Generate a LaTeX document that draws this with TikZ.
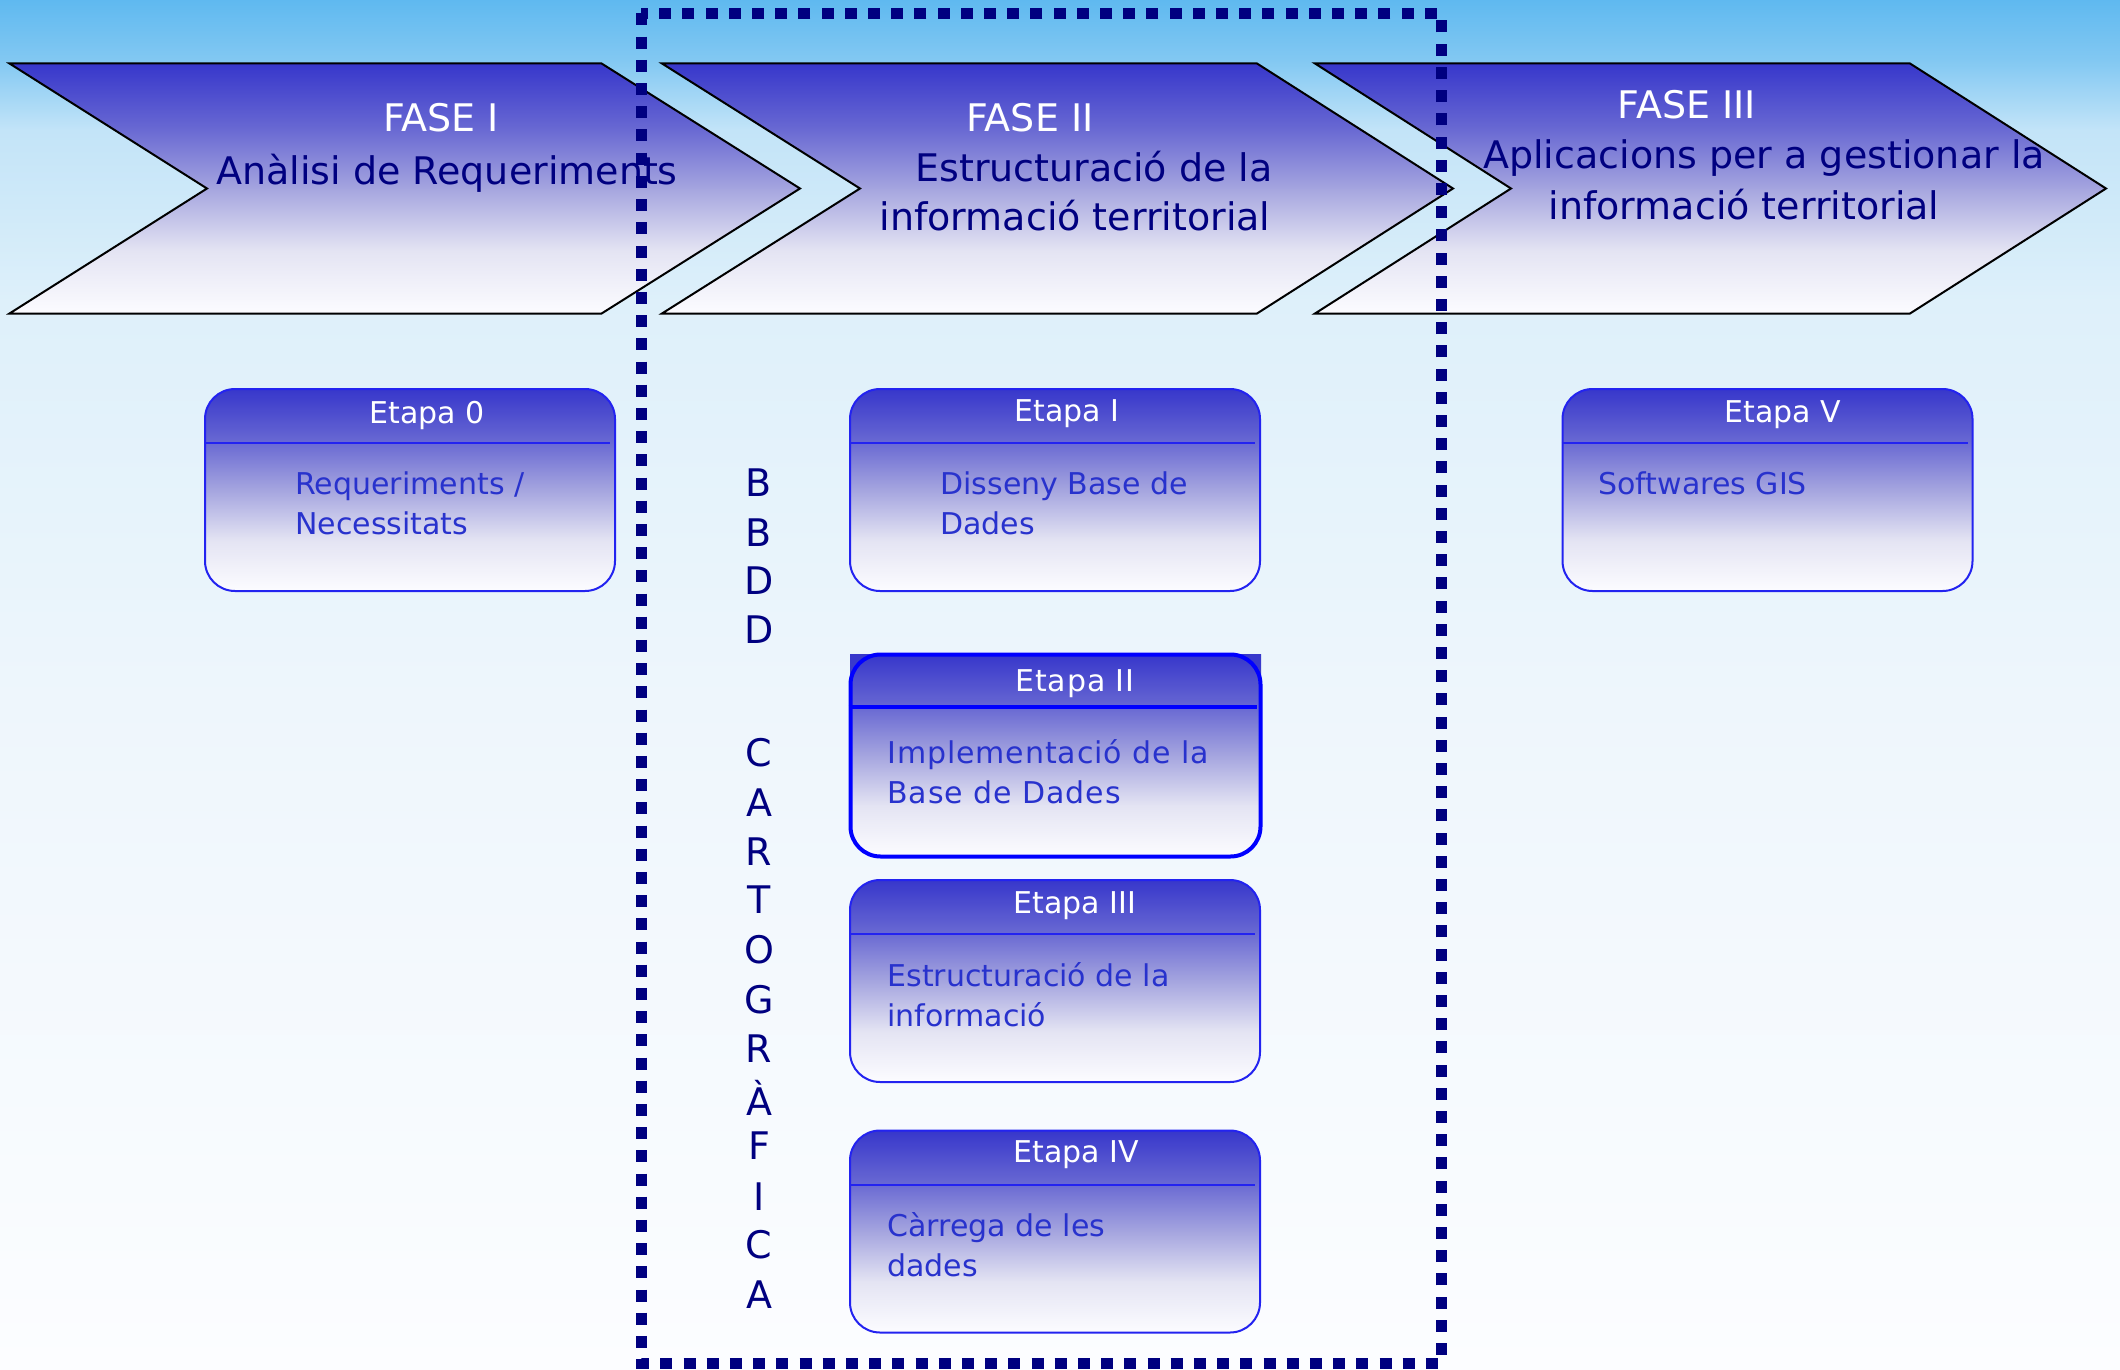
\documentclass[tikz,border=0pt]{standalone}
\usepackage{fontspec}
\setmainfont{DejaVu Sans}
\newfontfamily\spacedfont[LetterSpace=3]{DejaVu Sans}
\definecolor{navy}{RGB}{0,0,128}
\definecolor{txtblue}{RGB}{40,50,205}
\definecolor{boxtop}{RGB}{45,45,200}
\definecolor{boxborder}{RGB}{35,35,240}
\definecolor{g0}{RGB}{252,252,255}
\definecolor{g1}{RGB}{228,228,243}
\definecolor{g2}{RGB}{165,165,223}
\definecolor{g3}{RGB}{102,102,210}
\definecolor{g4}{RGB}{55,55,203}
\definecolor{bg0}{RGB}{252,253,255}
\definecolor{bg1}{RGB}{238,246,252}
\definecolor{bg2}{RGB}{222,240,250}
\definecolor{bg3}{RGB}{195,228,248}
\definecolor{bg4}{RGB}{130,200,242}
\definecolor{bg5}{RGB}{95,185,240}
\pgfdeclareverticalshading{sky}{100bp}{color(0bp)=(bg0); color(25bp)=(bg0); color(49.5bp)=(bg1); color(64bp)=(bg2); color(70.25bp)=(bg3); color(72.8bp)=(bg4); color(75bp)=(bg5); color(100bp)=(bg5)}
\pgfdeclareverticalshading{fade}{100bp}{color(0bp)=(g0); color(25bp)=(g0); color(37.5bp)=(g1); color(50bp)=(g2); color(62.5bp)=(g3); color(75bp)=(g4); color(100bp)=(g4)}
\tikzset{
  chevron/.style={draw=black, line width=1pt, shading=fade},
  fase/.style={text=white, font=\fontsize{19}{23}\selectfont, inner sep=0pt},
  fasetxt/.style={text=navy, font=\fontsize{19}{23}\selectfont, inner sep=0pt},
  etapa/.style={draw=boxborder, line width=1pt, rounded corners=15pt, minimum width=205pt, minimum height=101pt, shading=fade, inner sep=0pt},
  etapahead/.style={text=white, font=\fontsize{15}{18}\selectfont, inner sep=0pt},
  etapatxt/.style={text=txtblue, font=\fontsize{15}{20}\selectfont, inner sep=0pt, anchor=west, align=left},
  hline/.style={draw=boxborder, line width=1pt},
  vletter/.style={text=navy, font=\fontsize{19}{23}\selectfont, inner sep=0pt},
  bbox/.style={draw=navy, line width=5.5pt, dash pattern=on 6pt off 5.6pt}
}
\begin{document}
\begin{tikzpicture}[x=0.5pt,y=-0.5pt]
\useasboundingbox (0,0) rectangle (2120,1370);
\shade[shading=sky] (0,0) rectangle (2120,1370);

% chevrons
\shade[chevron] (9.5,63.5) -- (601.6,63.5) -- (800,188.5) -- (601.6,313.5) -- (9.5,313.5) -- (207,188.5) -- cycle;
\shade[chevron] (662,63.5) -- (1257,63.5) -- (1453,188.5) -- (1257,313.5) -- (662,313.5) -- (860,188.5) -- cycle;
\shade[chevron] (1315,63.5) -- (1910,63.5) -- (2106,188.5) -- (1910,313.5) -- (1315,313.5) -- (1511,188.5) -- cycle;

\node[fase] (f1) at (441,118) {FASE I};
\node[fasetxt] (f1t) at (447,173) {Anàlisi de Requeriments};
\node[fase] (f2) at (1030,118) {FASE II};
\node[fasetxt] (f2a) at (1094,167) {Estructuració de la};
\node[fasetxt] (f2b) at (1075,216) {informació territorial};
\node[fase] (f3) at (1687,105) {FASE III};
\node[fasetxt] (f3a) at (1764,158) {Aplicacions per a gestionar la};
\node[fasetxt] (f3b) at (1744,205) {informació territorial};

% boxes
\node[etapa] (e0) at (410,490) {};
\draw[hline] ([yshift=-27.5pt]e0.north west) -- ([yshift=-27.5pt,xshift=-3pt]e0.north east);
\node[etapahead] (h0) at (427,415) {Etapa 0};
\node[etapatxt] (c0) at (295,503) {Requeriments /\\Necessitats};

\node[etapa] (e1) at (1055,490) {};
\draw[hline] ([yshift=-27.5pt]e1.north west) -- ([yshift=-27.5pt,xshift=-3pt]e1.north east);
\node[etapahead] (h1) at (1067,414) {Etapa I};
\node[etapatxt] (c1) at (940,503) {Disseny Base de\\Dades};

\shade[top color=g4, bottom color=g4!80!g3] (850,654) rectangle (1261,690);
\node[etapa, draw=blue, line width=2pt] (e2) at (1055.5,755.5) {};
\draw[hline, draw=blue, line width=2pt] ([yshift=-27pt]e2.north west) -- ([yshift=-27pt,xshift=-3pt]e2.north east);
\node[etapahead] (h2) at (1075,684) {\spacedfont Etapa II};
\node[etapatxt] (c2) at (887,772) {\spacedfont Implementació de la\\\spacedfont Base de Dades};

\node[etapa] (e3) at (1055,981) {};
\draw[hline] ([yshift=-27.5pt]e3.north west) -- ([yshift=-27.5pt,xshift=-3pt]e3.north east);
\node[etapahead] (h3) at (1075,906) {Etapa III};
\node[etapatxt] (c3) at (887,994.5) {Estructuració de la\\informació};

\node[etapa] (e4) at (1055,1231.5) {};
\draw[hline] ([yshift=-27.5pt]e4.north west) -- ([yshift=-27.5pt,xshift=-3pt]e4.north east);
\node[etapahead] (h4) at (1076,1155) {Etapa IV};
\node[etapatxt] (c4) at (887,1244.5) {Càrrega de les\\dades};

\node[etapa] (e5) at (1767.5,490) {};
\draw[hline] ([yshift=-27.5pt]e5.north west) -- ([yshift=-27.5pt,xshift=-3pt]e5.north east);
\node[etapahead] (h5) at (1783,415) {Etapa V};
\node[etapatxt] (c5) at (1598,483) {Softwares GIS};

% vertical text
\foreach \l/\yy [count=\i] in {B/483,B/533,D/581,D/630,C/753,A/803,R/852,T/900,O/950,G/1000,R/1049,À/1098,F/1146,I/1197,C/1245,A/1295}
  \node[vletter] (v\i) at (759,\yy) {\l};

% dotted frame
\draw[bbox] (641,13.5) rectangle (1441,1363);
\end{tikzpicture}
\end{document}
